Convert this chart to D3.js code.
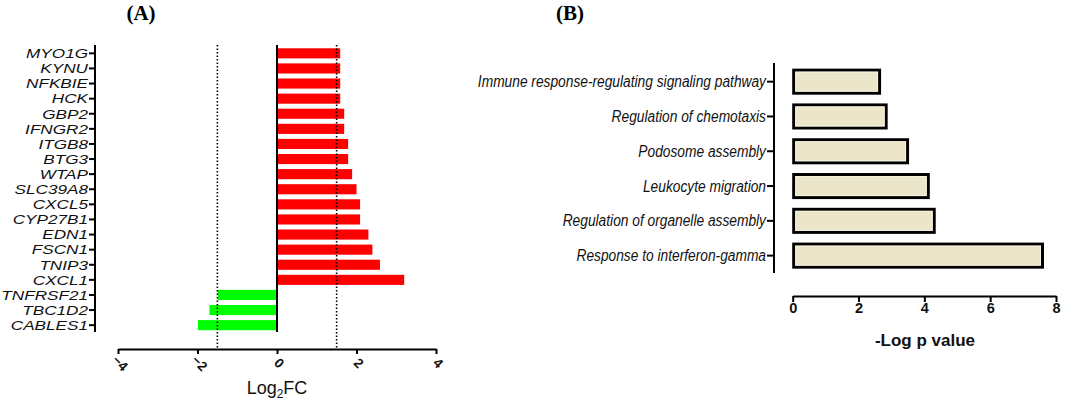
<!DOCTYPE html>
<html><head><meta charset="utf-8">
<script src="https://cdn.jsdelivr.net/npm/d3@7"></script>
<style>body{margin:0;background:#fff}svg{display:block}</style>
</head><body>
<svg id="c" width="1084" height="403"></svg>
<script>
const genes = ["MYO1G","KYNU","NFKBIE","HCK","GBP2","IFNGR2","ITGB8","BTG3","WTAP","SLC39A8","CXCL5","CYP27B1","EDN1","FSCN1","TNIP3","CXCL1","TNFRSF21","TBC1D2","CABLES1"];
const log2fc = [1.59,1.59,1.59,1.59,1.69,1.69,1.79,1.79,1.89,2.0,2.09,2.09,2.3,2.4,2.59,3.2,-1.49,-1.7,-1.99];
const fcTicks = [-4,-2,0,2,4];
const fcCutoffs = [-1.5,1.5];
const terms = ["Immune response-regulating signaling pathway","Regulation of chemotaxis","Podosome assembly","Leukocyte migration","Regulation of organelle assembly","Response to interferon-gamma"];
const logP = [2.67,2.87,3.52,4.15,4.33,7.62];
const pTicks = [0,2,4,6,8];

const svg = d3.select("#c");
const sans = "'Liberation Sans', Arial, sans-serif";

// ---------- Panel A ----------
const xA = d3.scaleLinear().domain([-4,4]).range([118,436]);
const yA = d3.scaleBand().domain(genes).range([43.3,335.2]).padding(0.33);
const A = svg.append("g");

A.append("text").attr("x",141).attr("y",20).attr("text-anchor","middle")
  .attr("font-family","'Liberation Serif', 'Times New Roman', serif").attr("font-weight","bold")
  .attr("font-size",21).text("(A)");

A.selectAll("rect.bar").data(genes).join("rect")
  .attr("x",(d,i)=>xA(Math.min(0,log2fc[i])))
  .attr("width",(d,i)=>Math.abs(xA(log2fc[i])-xA(0)))
  .attr("y",d=>yA(d)).attr("height",yA.bandwidth())
  .attr("fill",(d,i)=>log2fc[i]>=0?"#ff0000":"#00ff00");

// dotted cutoff lines
A.selectAll("line.cut").data(fcCutoffs).join("line")
  .attr("x1",d=>xA(d)).attr("x2",d=>xA(d)).attr("y1",45).attr("y2",349)
  .attr("stroke","#000").attr("stroke-width",1.6).attr("stroke-dasharray","1.5,2");

// zero line
A.append("line").attr("x1",xA(0)).attr("x2",xA(0)).attr("y1",45).attr("y2",332)
  .attr("stroke","#000").attr("stroke-width",2);

// y axis
const yAxA = A.append("g").attr("transform","translate(95,0)")
  .call(d3.axisLeft(yA).tickSize(6).tickSizeOuter(0));
yAxA.select(".domain").remove();
yAxA.append("line").attr("x1",0).attr("x2",0).attr("y1",45).attr("y2",332).attr("stroke","#000").attr("stroke-width",2);
yAxA.selectAll(".tick line").attr("stroke-width",2);
yAxA.selectAll(".tick text").attr("x",null).attr("dy",null)
  .attr("transform","translate(-7,4.8) scale(1.3,1)")
  .attr("font-family",sans).attr("font-style","italic").attr("font-size",13.2).attr("fill","#111");

// x axis
const xAxA = A.append("g").attr("transform","translate(0,349)")
  .call(d3.axisBottom(xA).tickValues(fcTicks).tickSize(5).tickSizeOuter(0));
xAxA.select(".domain").attr("stroke-width",2);
xAxA.selectAll(".tick line").attr("stroke-width",2);
xAxA.selectAll(".tick text").attr("y",null).attr("dy",null)
  .attr("transform","translate(1,15) rotate(45)").attr("text-anchor","middle").attr("dominant-baseline","middle")
  .attr("font-family",sans).attr("font-weight","bold").attr("font-size",13.5).attr("fill","#111");

const lab = A.append("text").attr("x",xA(0)).attr("y",394).attr("text-anchor","middle")
  .attr("font-family",sans).attr("font-size",18).attr("fill","#111");
lab.append("tspan").text("Log");
lab.append("tspan").attr("font-size",12).attr("dy",4).text("2");
lab.append("tspan").attr("dy",-4).text("FC");

// ---------- Panel B ----------
const xB = d3.scaleLinear().domain([0,8]).range([792.7,1056]);
const yB = d3.scaleBand().domain(terms).range([59.4,277.9]).padding(0.28);
const B = svg.append("g");

B.append("text").attr("x",570).attr("y",20).attr("text-anchor","middle")
  .attr("font-family","'Liberation Serif', 'Times New Roman', serif").attr("font-weight","bold")
  .attr("font-size",21).text("(B)");

B.selectAll("rect.bar").data(terms).join("rect")
  .attr("x",xB(0)+1).attr("width",(d,i)=>xB(logP[i])-xB(0)-2)
  .attr("y",d=>yB(d)+1).attr("height",yB.bandwidth()-2)
  .attr("fill","#ebe5c9").attr("stroke","#000").attr("stroke-width",3);
B.selectAll("rect.inner").data(terms).join("rect")
  .attr("x",xB(0)+3).attr("width",(d,i)=>xB(logP[i])-xB(0)-6)
  .attr("y",d=>yB(d)+3).attr("height",yB.bandwidth()-6)
  .attr("fill","none").attr("stroke","#f7f3e4").attr("stroke-width",1);

const yAxB = B.append("g").attr("transform","translate(774,0)")
  .call(d3.axisLeft(yB).tickSize(7).tickSizeOuter(0));
yAxB.select(".domain").remove();
yAxB.append("line").attr("x1",0).attr("x2",0).attr("y1",63).attr("y2",273).attr("stroke","#000").attr("stroke-width",2);
yAxB.selectAll(".tick line").attr("stroke-width",2);
yAxB.selectAll(".tick text").attr("x",null).attr("dy",null)
  .attr("transform","translate(-8,5.5) scale(0.8,1)")
  .attr("font-family",sans).attr("font-style","italic").attr("font-size",17.2).attr("fill","#111");

const xAxB = B.append("g").attr("transform","translate(0,296)")
  .call(d3.axisBottom(xB).tickValues(pTicks).tickSize(6).tickSizeOuter(0));
xAxB.select(".domain").attr("stroke-width",2);
xAxB.selectAll(".tick line").attr("stroke-width",2);
xAxB.selectAll(".tick text").attr("y",6.5).attr("dy","0.71em")
  .attr("font-family",sans).attr("font-weight","bold").attr("font-size",14.5).attr("fill","#111");

B.append("text").attr("x",925).attr("y",346).attr("text-anchor","middle")
  .attr("font-family",sans).attr("font-weight","bold").attr("font-size",17).attr("fill","#111")
  .text("-Log p value");
</script>
</body></html>
